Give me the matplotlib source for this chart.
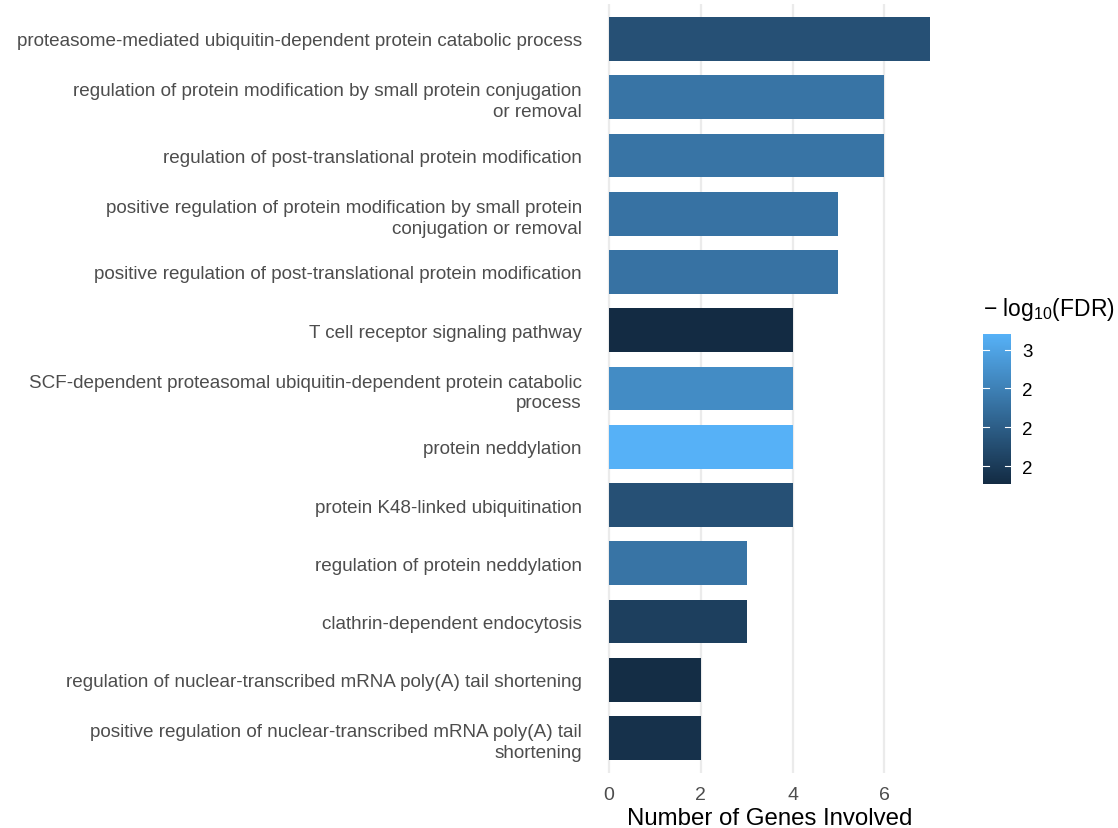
import matplotlib
matplotlib.use('Agg')
import matplotlib.pyplot as plt
from matplotlib.colors import LinearSegmentedColormap, Normalize
from matplotlib.cm import ScalarMappable

plt.rcParams['font.family'] = ['Liberation Sans', 'DejaVu Sans']
plt.rcParams['mathtext.default'] = 'regular'

terms = [
    'proteasome-mediated ubiquitin-dependent protein catabolic process',
    'regulation of protein modification by small protein conjugation\nor removal',
    'regulation of post-translational protein modification',
    'positive regulation of protein modification by small protein\nconjugation or removal',
    'positive regulation of post-translational protein modification',
    'T cell receptor signaling pathway',
    'SCF-dependent proteasomal ubiquitin-dependent protein catabolic\nprocess',
    'protein neddylation',
    'protein K48-linked ubiquitination',
    'regulation of protein neddylation',
    'clathrin-dependent endocytosis',
    'regulation of nuclear-transcribed mRNA poly(A) tail shortening',
    'positive regulation of nuclear-transcribed mRNA poly(A) tail\nshortening',
]
gene_counts = [7, 6, 6, 5, 5, 4, 4, 4, 4, 3, 3, 2, 2]
neg_log_fdr = [2.155, 2.41, 2.41, 2.40, 2.40, 1.885, 2.58, 2.85, 2.155, 2.41, 2.03, 1.90, 1.93]
cbar_ticks = [2.0, 2.25, 2.5, 2.75]
cbar_labels = ['2', '2', '2', '3']

cmap = LinearSegmentedColormap.from_list('gg', ['#132B43', '#56B1F7'])
norm = Normalize(vmin=min(neg_log_fdr), vmax=max(neg_log_fdr))

fig = plt.figure(figsize=(11.18, 8.29), dpi=100)
ax = fig.add_axes([0.5304, 0.0663, 0.316, 0.9277])

ypos = list(range(len(terms)))[::-1]
ax.barh(ypos, gene_counts, height=0.75, color=cmap(norm(neg_log_fdr)), zorder=2)

ax.set_xlim(-0.35, 7.35)
ax.set_ylim(-0.6, len(terms) - 0.4)
ax.set_xticks([0, 2, 4, 6])
ax.set_yticks(ypos)
ax.set_yticklabels(terms, fontsize=13.6, color='#4D4D4D', ha='right', linespacing=1.3)
ax.tick_params(axis='x', labelsize=14, colors='#4D4D4D', length=0, pad=9)
ax.tick_params(axis='y', length=0, pad=8)
ax.grid(axis='x', color='#EBEBEB', linewidth=1.6, zorder=0)
ax.grid(axis='y', visible=False)
for s in ax.spines.values():
    s.set_visible(False)
ax.set_xlabel('Number of Genes Involved', fontsize=17.3, color='black', labelpad=3)

cax = fig.add_axes([983 / 1118, 1 - 485 / 829, 28 / 1118, 150 / 829])
cb = fig.colorbar(ScalarMappable(norm=norm, cmap=cmap), cax=cax)
cb.outline.set_visible(False)
cb.set_ticks(cbar_ticks)
cb.set_ticklabels(cbar_labels)
cax.tick_params(length=0, labelsize=13.5, colors='black', pad=8)
for t in cbar_ticks:
    cax.plot([0, 0.2], [t, t], color='white', lw=0.8, transform=cax.get_yaxis_transform())
    cax.plot([0.8, 1], [t, t], color='white', lw=0.8, transform=cax.get_yaxis_transform())
fig.text(983 / 1118, 1 - 310 / 829, '$-$ log$_{10}$(FDR)', fontsize=16.5, va='center', ha='left')

fig.savefig('out.png', dpi=100)
